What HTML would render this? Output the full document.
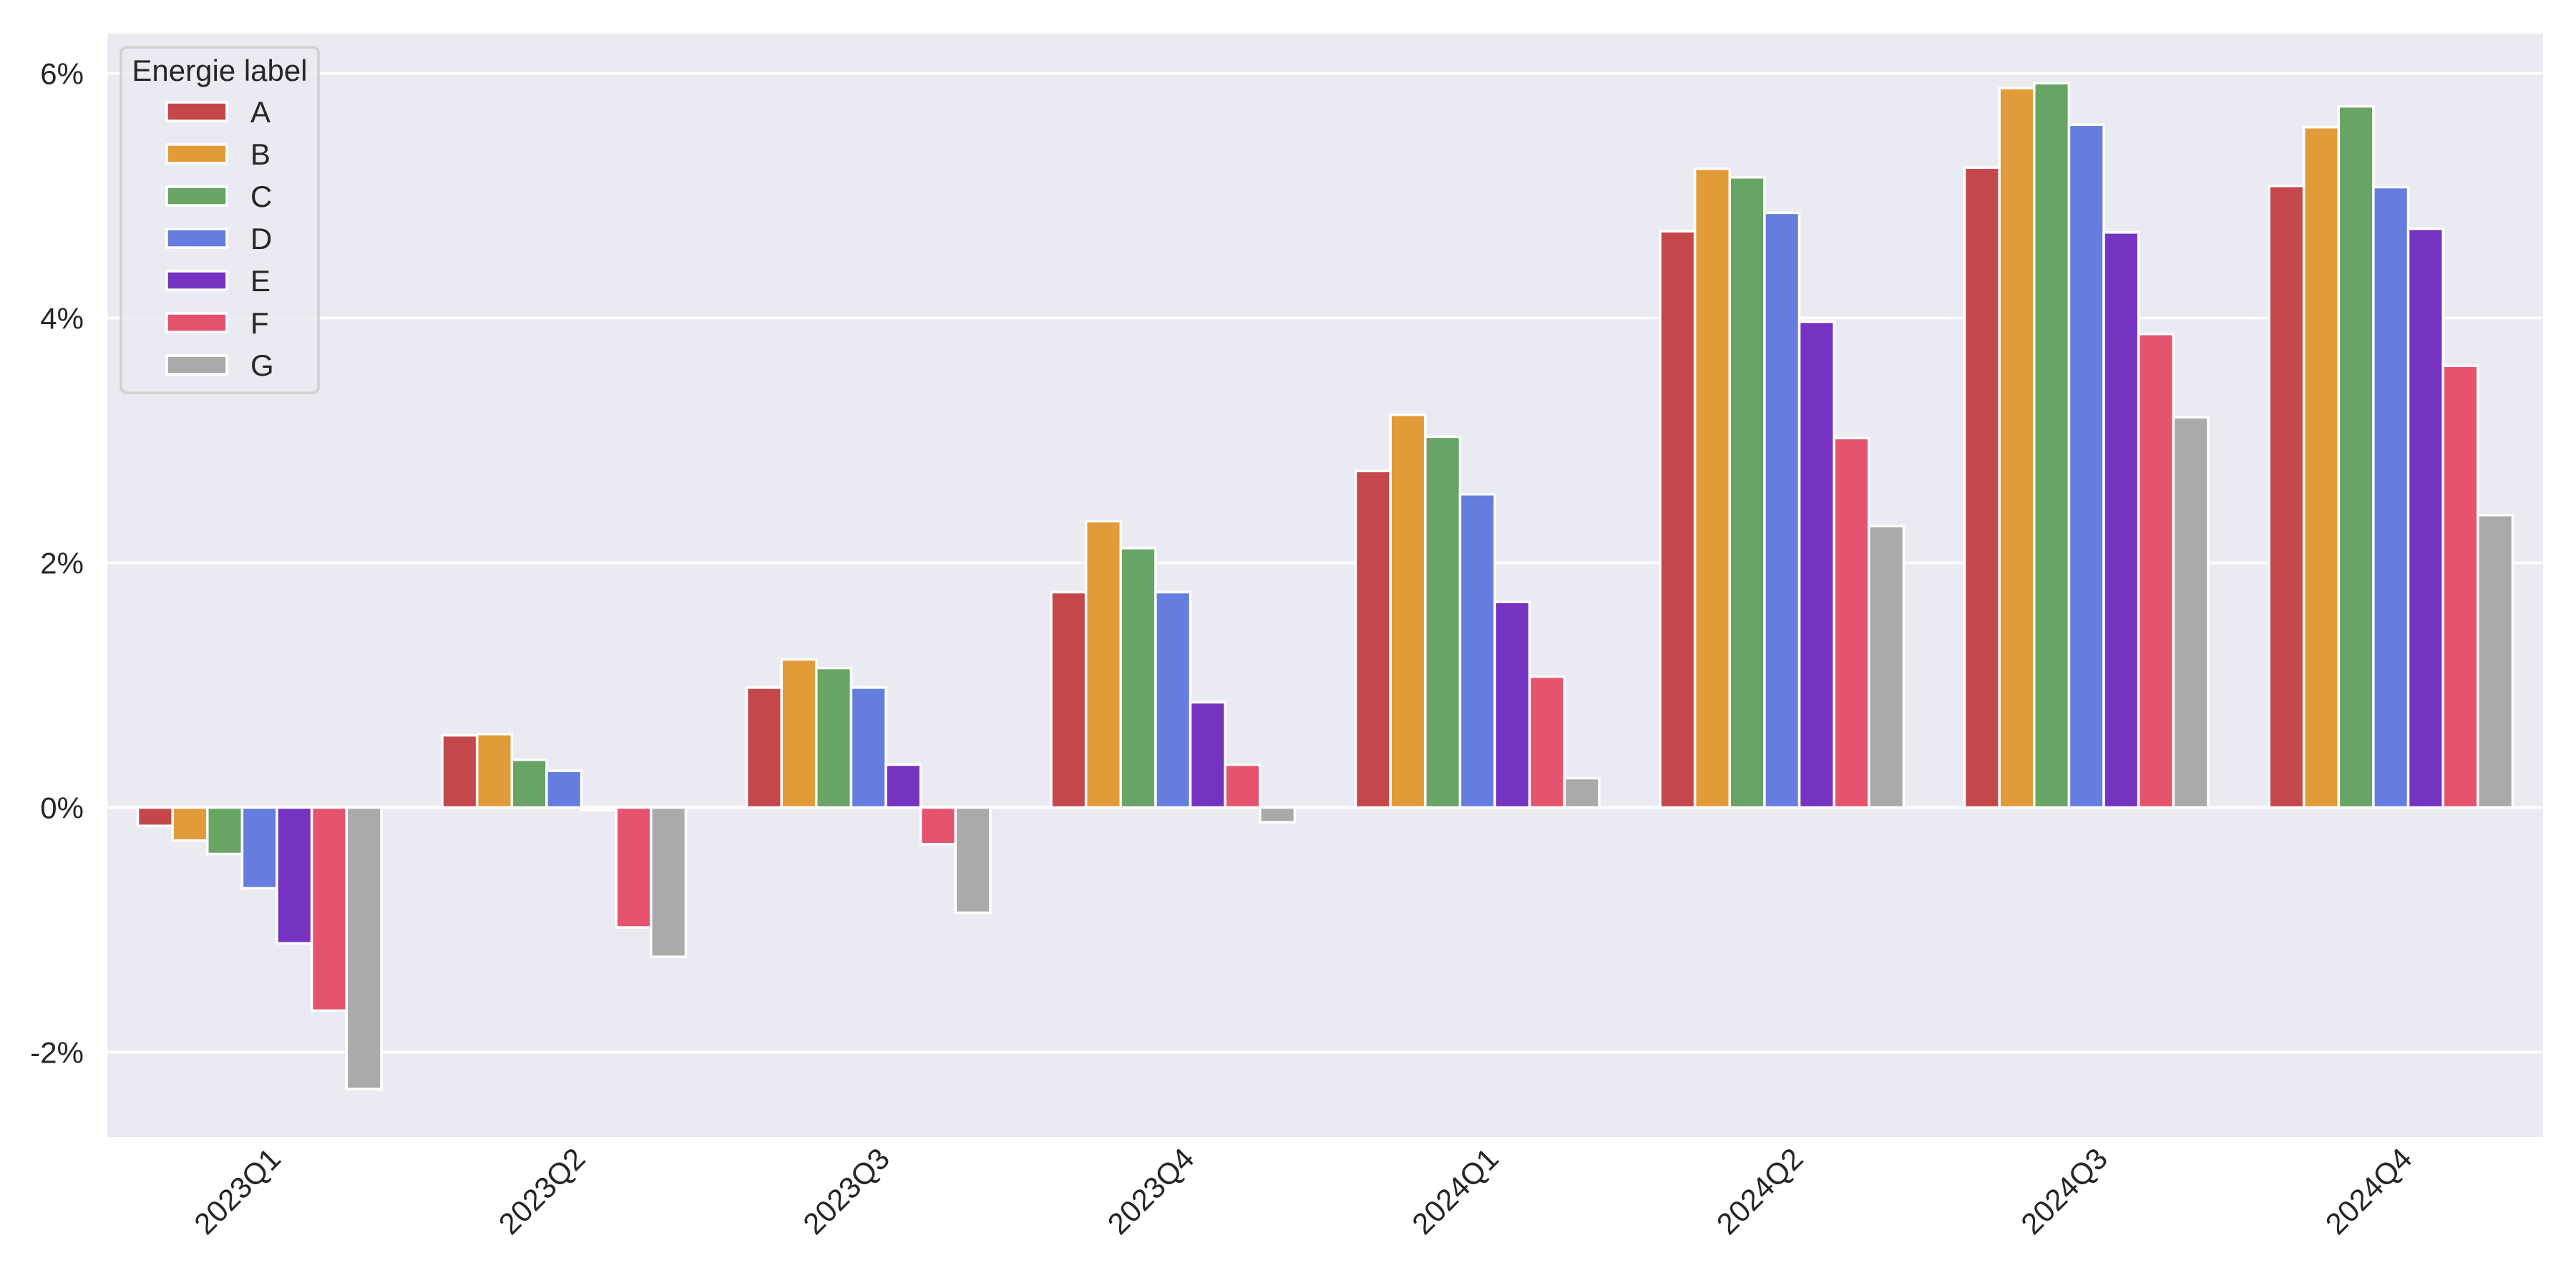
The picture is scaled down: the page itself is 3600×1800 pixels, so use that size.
<!DOCTYPE html>
<html><head><meta charset="utf-8"><style>
html,body{margin:0;padding:0;background:#fff;}
svg{display:block;font-family:"Liberation Sans","DejaVu Sans",sans-serif;}
</style></head><body>
<svg id="chart" width="3600" height="1800" viewBox="0 0 3600 1800" xmlns="http://www.w3.org/2000/svg">
<rect x="150" y="47" width="3404" height="1542" fill="#eaeaf2"/>
<g id="grid"></g>
<g id="yticks"></g>
<g id="bars"></g>
<g id="xticks"></g>
<g id="legend"></g>
</svg>
<script>
const categories = ["2023Q1","2023Q2","2023Q3","2023Q4","2024Q1","2024Q2","2024Q3","2024Q4"];
const seriesNames = ["A","B","C","D","E","F","G"];
const seriesColors = ["#c4484b","#e29b39","#68a463","#647ddf","#7633c1","#e5536f","#aaaaaa"];
const valuesA = [-0.15,0.59,0.98,1.76,2.75,4.71,5.23,5.08];
const valuesB = [-0.27,0.60,1.21,2.34,3.21,5.22,5.88,5.56];
const valuesC = [-0.38,0.39,1.14,2.12,3.03,5.15,5.92,5.73];
const valuesD = [-0.66,0.30,0.98,1.76,2.56,4.86,5.58,5.07];
const valuesE = [-1.11,-0.02,0.35,0.86,1.68,3.97,4.70,4.73];
const valuesF = [-1.66,-0.98,-0.30,0.35,1.07,3.02,3.87,3.61];
const valuesG = [-2.30,-1.22,-0.86,-0.12,0.24,2.30,3.19,2.39];
const yTickValues = [-2,0,2,4,6];
const yTickLabels = ["-2%","0%","2%","4%","6%"];

const NS="http://www.w3.org/2000/svg";
const allSeries=[valuesA,valuesB,valuesC,valuesD,valuesE,valuesF,valuesG];
const plotL=150, plotR=3554, plotT=47, plotB=1589;
const y0px=1128.5, pxPer=171;
function yScale(v){return y0px - v*pxPer;}
const band=(plotR-plotL)/categories.length;
function xCenter(i){return plotL + band*(i+0.5);}
const groupW=band*0.8, barW=groupW/seriesNames.length;
function mk(tag,attrs,parent){const e=document.createElementNS(NS,tag);for(const k in attrs)e.setAttribute(k,attrs[k]);parent.appendChild(e);return e;}

const grid=document.getElementById('grid'), yt=document.getElementById('yticks');
yTickValues.forEach((v,i)=>{
  const l=mk('line',{x1:plotL,x2:plotR,y1:yScale(v),y2:yScale(v),stroke:'#fff','stroke-width':3.5},grid);
  
  
  const t=mk('text',{x:117,y:yScale(v)+15,'text-anchor':'end','font-size':42,fill:'#262626'},yt);
  t.textContent=yTickLabels[i];
  
  
});

const bars=document.getElementById('bars');
allSeries.forEach((vals,s)=>{
  vals.forEach((v,i)=>{
    const x=xCenter(i)-groupW/2+s*barW;
    const y=Math.min(yScale(v),y0px), h=Math.abs(yScale(v)-y0px);
    const r=mk('rect',{x:x,y:y,width:barW,height:h,fill:seriesColors[s],stroke:'#fff','stroke-width':3.5},bars);
    
    
  });
});

const xt=document.getElementById('xticks');
categories.forEach((c,i)=>{
  const ax=xCenter(i)+32, ay=1622;
  const t=mk('text',{x:ax,y:ay,'text-anchor':'end','font-size':42,fill:'#262626',transform:`rotate(-45 ${ax} ${ay})`},xt);
  t.textContent=c;
  
  
});

const lg=document.getElementById('legend');
const box=mk('rect',{x:169,y:66,width:276,height:483,rx:8,fill:'#eaeaf2','fill-opacity':0.8,stroke:'#d0d0d0','stroke-width':3.5},lg);


const lt=mk('text',{x:307,y:113,'text-anchor':'middle','font-size':42,fill:'#262626'},lg);
lt.textContent='Energie label';


seriesNames.forEach((n,s)=>{
  const cy=156+s*59;
  const p=mk('rect',{x:233,y:cy-13,width:84,height:26,fill:seriesColors[s],stroke:'#fff','stroke-width':3.5},lg);
  
  
  const t=mk('text',{x:350,y:cy+15,'font-size':42,fill:'#262626'},lg);
  t.textContent=n;
  
  
});
</script>
</body></html>
